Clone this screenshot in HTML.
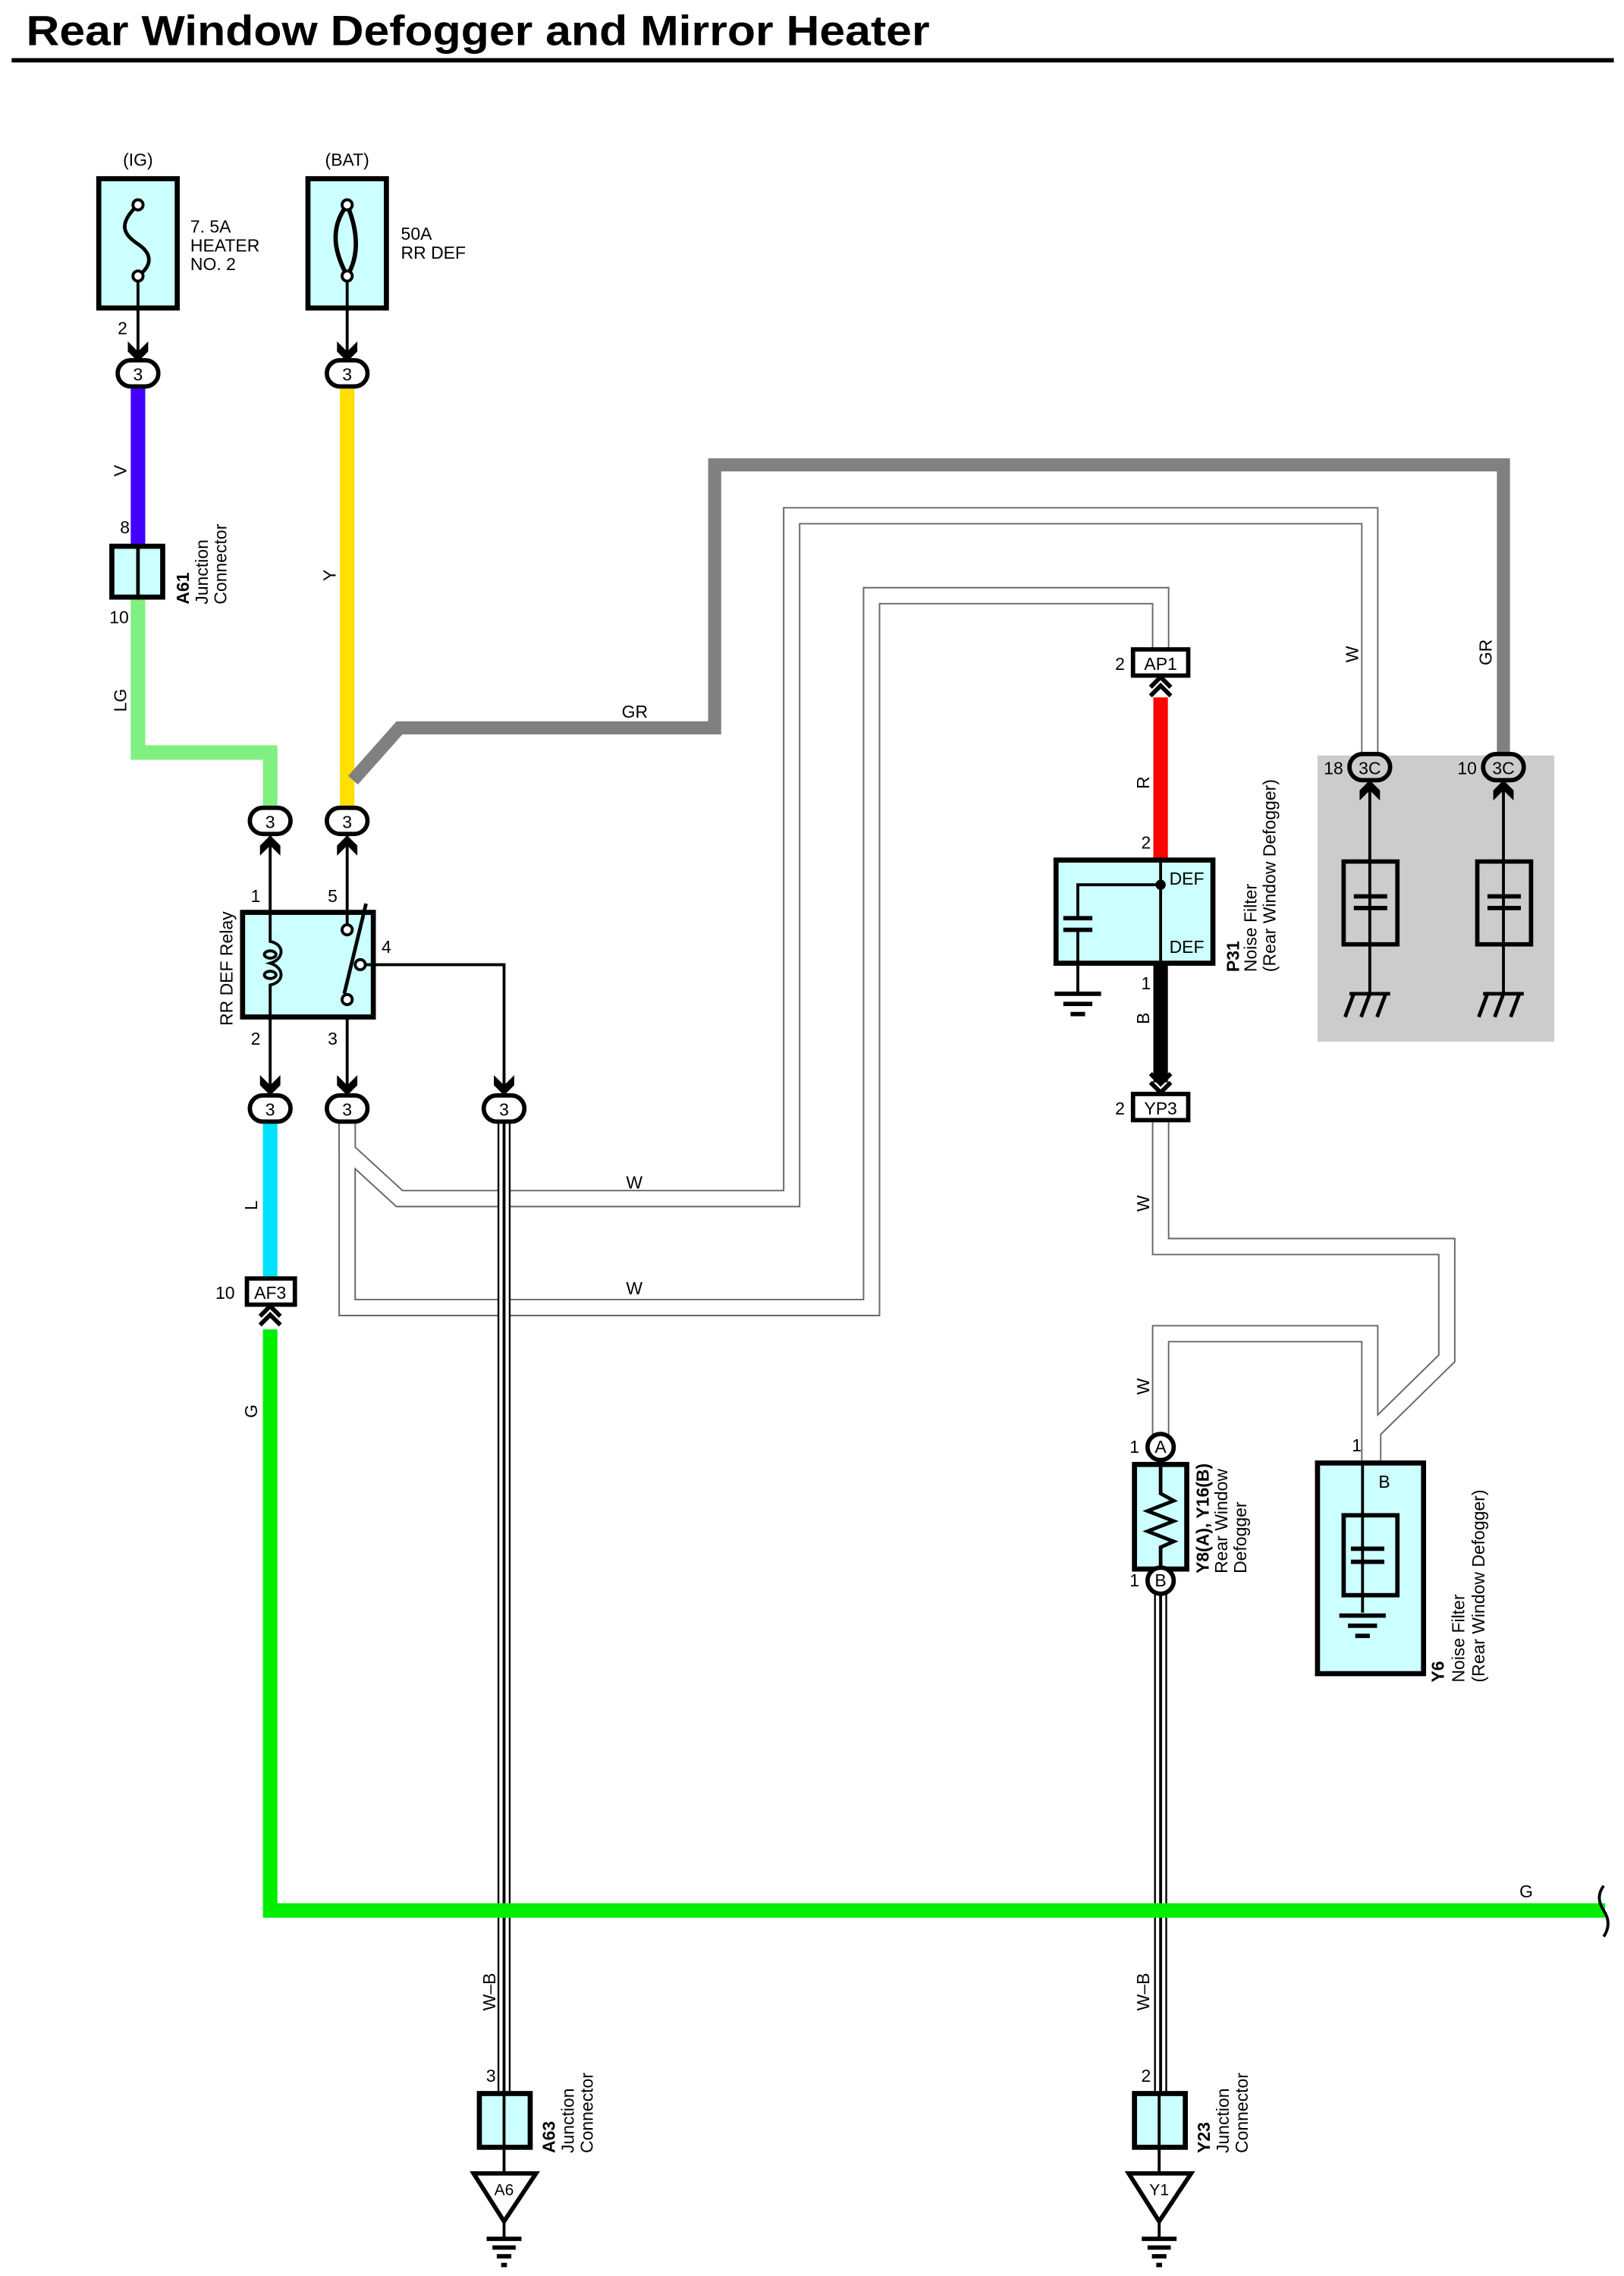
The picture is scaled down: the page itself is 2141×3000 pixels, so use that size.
<!DOCTYPE html>
<html><head><meta charset="utf-8"><style>
html,body{margin:0;padding:0;background:#fff}
svg{display:block}
text{font-family:"Liberation Sans",Arial,sans-serif;font-size:12px;fill:#000}
</style></head><body>
<svg width="2141" height="3000" viewBox="0 0 1118 1566.6" preserveAspectRatio="none" xmlns="http://www.w3.org/2000/svg">
<defs>
<g id="dn"><path d="M-7,-13 L0,-6 L7,-13 L7,-6 L0,1 L-7,-6 Z" fill="#000"/></g>
<g id="up"><path d="M-7,13 L0,6 L7,13 L7,6 L0,-1 L-7,6 Z" fill="#000"/></g>
<g id="dup"><path d="M-7,8 L0,1 L7,8" fill="none" stroke="#000" stroke-width="3"/><path d="M-7,14 L0,7 L7,14" fill="none" stroke="#000" stroke-width="3"/></g>
<g id="ddn"><path d="M-7,-8 L0,-1 L7,-8" fill="none" stroke="#000" stroke-width="3"/><path d="M-7,-14 L0,-7 L7,-14" fill="none" stroke="#000" stroke-width="3"/></g>
<g id="chassis"><path d="M-14,0 H14" stroke="#000" stroke-width="2.5"/><path d="M-11,0 L-17,16 M0,0 L-6,16 M11,0 L5,16" stroke="#000" stroke-width="2.5"/></g>
<g id="gnd"><path d="M-16,0 H16 M-10,7 H10 M-5,14 H5" stroke="#000" stroke-width="3"/></g>
</defs>
<text x="18" y="31" textLength="622" lengthAdjust="spacingAndGlyphs" style="font-size:29px;font-weight:bold">Rear Window Defogger and Mirror Heater</text>
<rect x="8" y="40" width="1103" height="3" fill="#000"/>

<rect x="907" y="520" width="163" height="197" fill="#cccccc"/>

<g fill="none" stroke-linejoin="miter">
<path d="M239,772 V792 L275,825 H545 V355 H943 V520" stroke="#666" stroke-width="12"/>
<path d="M239,772 V900 H600 V410 H799 V447" stroke="#666" stroke-width="12"/>
<path d="M799,771 V858 H996 V935 L945,985 V1007" stroke="#666" stroke-width="12"/>
<path d="M943,1007 V918 H799 V988" stroke="#666" stroke-width="12"/>
<path d="M239,772 V792 L275,825 H545 V355 H943 V520" stroke="#fff" stroke-width="10"/>
<path d="M239,772 V900 H600 V410 H799 V447" stroke="#fff" stroke-width="10"/>
<path d="M799,771 V858 H996 V935 L945,985 V1007" stroke="#fff" stroke-width="10"/>
<path d="M943,1007 V918 H799 V988" stroke="#fff" stroke-width="10"/>
<path d="M347,772 V1440 M799,1097 V1440" stroke="#000" stroke-width="9"/>
<path d="M347,772 V1440 M799,1097 V1440" stroke="#fff" stroke-width="6.5"/>
<path d="M347,772 V1440 M799,1097 V1440" stroke="#000" stroke-width="2"/>
</g>

<g fill="none">
<path d="M95,266 V376" stroke="#4400ff" stroke-width="10"/>
<path d="M95,411 V518 H186 V556" stroke="#80f080" stroke-width="10"/>
<path d="M239,266 V556" stroke="#ffe000" stroke-width="10"/>
<path d="M243,537 L275,501 H492 V320 H1035 V520" stroke="#808080" stroke-width="9"/>
<path d="M186,772 V880" stroke="#00e0ff" stroke-width="10"/>
<path d="M186,915 V1315 H1105" stroke="#00ee00" stroke-width="10"/>
<path d="M799,480 V592" stroke="#ff0000" stroke-width="10"/>
<path d="M799,663 V745" stroke="#000" stroke-width="10"/>
</g>
<path d="M1104,1298 Q1098,1306 1104,1315 Q1110,1324 1104,1333" fill="none" stroke="#000" stroke-width="2"/>

<rect x="68" y="123" width="54" height="89" fill="#ccffff" stroke="#000" stroke-width="3.5"/>
<path d="M95,141 C80,155 86,162 95,168 C104,174 106,182 95,190" fill="none" stroke="#000" stroke-width="2.5"/>
<circle cx="95" cy="141" r="3.5" fill="#fff" stroke="#000" stroke-width="2"/>
<circle cx="95" cy="190" r="3.5" fill="#fff" stroke="#000" stroke-width="2"/>
<path d="M95,194 V244" stroke="#000" stroke-width="2"/>
<use href="#dn" x="95" y="248"/>
<text x="95" y="114" text-anchor="middle">(IG)</text>
<text x="131" y="160">7. 5A</text><text x="131" y="173">HEATER</text><text x="131" y="186">NO. 2</text>
<text x="81" y="230">2</text>

<rect x="212" y="123" width="54" height="89" fill="#ccffff" stroke="#000" stroke-width="3.5"/>
<path d="M239,141 C226,158 231,175 239,190 C248,175 246,158 239,141 Z" fill="none" stroke="#000" stroke-width="3"/>
<circle cx="239" cy="141" r="3.5" fill="#fff" stroke="#000" stroke-width="2"/>
<circle cx="239" cy="190" r="3.5" fill="#fff" stroke="#000" stroke-width="2"/>
<path d="M239,194 V244" stroke="#000" stroke-width="2"/>
<use href="#dn" x="239" y="248"/>
<text x="239" y="114" text-anchor="middle">(BAT)</text>
<text x="276" y="165">50A</text><text x="276" y="178">RR DEF</text>

<g fill="#fff" stroke="#000" stroke-width="3">
<rect x="81" y="248" width="28" height="18" rx="9"/>
<rect x="225" y="248" width="28" height="18" rx="9"/>
<rect x="172" y="556" width="28" height="18" rx="9"/>
<rect x="225" y="556" width="28" height="18" rx="9"/>
<rect x="172" y="754" width="28" height="18" rx="9"/>
<rect x="225" y="754" width="28" height="18" rx="9"/>
<rect x="333" y="754" width="28" height="18" rx="9"/>
</g>
<g text-anchor="middle">
<text x="95" y="262">3</text><text x="239" y="262">3</text>
<text x="186" y="570">3</text><text x="239" y="570">3</text>
<text x="186" y="768">3</text><text x="239" y="768">3</text><text x="347" y="768">3</text>
</g>

<rect x="77" y="376" width="35" height="35" fill="#ccffff" stroke="#000" stroke-width="3.5"/>
<path d="M95,376 V411" stroke="#000" stroke-width="2.5"/>
<text x="86" y="367" text-anchor="middle">8</text>
<text x="82" y="429" text-anchor="middle">10</text>
<text transform="translate(130,416) rotate(-90)" style="font-weight:bold">A61</text>
<text transform="translate(143,416) rotate(-90)">Junction</text>
<text transform="translate(156,416) rotate(-90)">Connector</text>
<text transform="translate(87,328) rotate(-90)">V</text>
<text transform="translate(231,400) rotate(-90)">Y</text>
<text transform="translate(87,490) rotate(-90)">LG</text>
<text x="428" y="494">GR</text>
<text transform="translate(1027,458) rotate(-90)">GR</text>
<text transform="translate(935,456) rotate(-90)">W</text>

<path d="M186,574 V754 M239,574 V640 M239,688 V754" stroke="#000" stroke-width="2"/>
<use href="#up" x="186" y="576"/><use href="#up" x="239" y="576"/>
<rect x="167" y="628" width="90" height="72" fill="#ccffff" stroke="#000" stroke-width="3.5"/>
<path d="M186,628 V648 C196,650 196,660 186,663 C196,666 196,676 186,678 V700" fill="#ccffff" stroke="#000" stroke-width="2"/>
<ellipse cx="186" cy="657" rx="4" ry="2.5" fill="none" stroke="#000" stroke-width="2"/>
<ellipse cx="186" cy="671" rx="4" ry="2.5" fill="none" stroke="#000" stroke-width="2"/>
<path d="M239,640 V628" stroke="#000" stroke-width="2"/>
<path d="M237,684 L252,622" stroke="#000" stroke-width="2.5"/>
<circle cx="239" cy="640" r="3.5" fill="#fff" stroke="#000" stroke-width="2"/>
<circle cx="239" cy="688" r="3.5" fill="#fff" stroke="#000" stroke-width="2"/>
<circle cx="248" cy="664" r="3.5" fill="#fff" stroke="#000" stroke-width="2"/>
<path d="M251,664 H347 V748" fill="none" stroke="#000" stroke-width="2"/>
<use href="#dn" x="186" y="753"/><use href="#dn" x="239" y="753"/><use href="#dn" x="347" y="753"/>
<text x="176" y="621" text-anchor="middle">1</text><text x="229" y="621" text-anchor="middle">5</text>
<text x="266" y="656" text-anchor="middle">4</text>
<text x="176" y="719" text-anchor="middle">2</text><text x="229" y="719" text-anchor="middle">3</text>
<text transform="translate(160,706) rotate(-90)">RR DEF Relay</text>

<text transform="translate(177,833) rotate(-90)">L</text>
<rect x="170" y="880" width="33" height="18" fill="#fff" stroke="#000" stroke-width="3"/>
<text x="186" y="894" text-anchor="middle">AF3</text>
<text x="155" y="894" text-anchor="middle">10</text>
<use href="#dup" x="186" y="898"/>
<text transform="translate(177,976) rotate(-90)">G</text>
<text x="1046" y="1306">G</text>
<text x="431" y="818">W</text>
<text x="431" y="891">W</text>

<rect x="780" y="447" width="38" height="18" fill="#fff" stroke="#000" stroke-width="3"/>
<text x="799" y="461" text-anchor="middle">AP1</text>
<text x="771" y="461" text-anchor="middle">2</text>
<use href="#dup" x="799" y="465"/>
<text transform="translate(791,543) rotate(-90)">R</text>
<text x="789" y="584" text-anchor="middle">2</text>
<rect x="727" y="592" width="108" height="71" fill="#ccffff" stroke="#000" stroke-width="3.5"/>
<path d="M799,592 V663 M799,609 H742 V632 M742,640 V683" fill="none" stroke="#000" stroke-width="2"/>
<circle cx="799" cy="609" r="3.5" fill="#000"/>
<path d="M732,632 H752 M732,640 H752" stroke="#000" stroke-width="3"/>
<use href="#gnd" x="742" y="684"/>
<text x="805" y="609">DEF</text><text x="805" y="656">DEF</text>
<text x="789" y="681" text-anchor="middle">1</text>
<text transform="translate(791,705) rotate(-90)">B</text>
<text transform="translate(853,669) rotate(-90)" style="font-weight:bold">P31</text>
<text transform="translate(865,669) rotate(-90)">Noise Filter</text>
<text transform="translate(878,669) rotate(-90)">(Rear Window Defogger)</text>
<use href="#ddn" x="799" y="753"/>
<rect x="780" y="753" width="38" height="18" fill="#fff" stroke="#000" stroke-width="3"/>
<text x="799" y="767" text-anchor="middle">YP3</text>
<text x="771" y="767" text-anchor="middle">2</text>
<text transform="translate(791,834) rotate(-90)">W</text>

<g fill="none" stroke="#000">
<path d="M943,538 V683 M1035,538 V683" stroke-width="2"/>
<rect x="925" y="593" width="37" height="57" stroke-width="3"/>
<rect x="1017" y="593" width="37" height="57" stroke-width="3"/>
<path d="M932,617 H955 M932,625 H955 M1024,617 H1047 M1024,625 H1047" stroke-width="3"/>
</g>
<use href="#chassis" x="943" y="684"/><use href="#chassis" x="1035" y="684"/>
<use href="#up" x="943" y="538"/><use href="#up" x="1035" y="538"/>
<g fill="#ccc" stroke="#000" stroke-width="3">
<rect x="929" y="519" width="28" height="18" rx="9"/>
<rect x="1021" y="519" width="28" height="18" rx="9"/>
</g>
<text x="943" y="533" text-anchor="middle">3C</text><text x="1035" y="533" text-anchor="middle">3C</text>
<text x="918" y="533" text-anchor="middle">18</text><text x="1010" y="533" text-anchor="middle">10</text>

<rect x="781" y="1008" width="36" height="72" fill="#ccffff" stroke="#000" stroke-width="3.5"/>
<path d="M799,1005 V1028 L808,1033 L790,1040 L808,1047 L790,1054 L808,1061 L799,1065 V1085" fill="none" stroke="#000" stroke-width="2.5"/>
<circle cx="799" cy="996" r="9" fill="#fff" stroke="#000" stroke-width="3"/>
<circle cx="799" cy="1088" r="9" fill="#fff" stroke="#000" stroke-width="3"/>
<text x="799" y="1000" text-anchor="middle">A</text><text x="799" y="1092" text-anchor="middle">B</text>
<text x="781" y="1000" text-anchor="middle">1</text><text x="781" y="1092" text-anchor="middle">1</text>
<text transform="translate(791,960) rotate(-90)">W</text>
<text transform="translate(832,1083) rotate(-90)" style="font-weight:bold">Y8(A), Y16(B)</text>
<text transform="translate(845,1083) rotate(-90)">Rear Window</text>
<text transform="translate(858,1083) rotate(-90)">Defogger</text>

<rect x="907" y="1007" width="73" height="145" fill="#ccffff" stroke="#000" stroke-width="3.5"/>
<path d="M938,1007 V1110" stroke="#000" stroke-width="2"/>
<rect x="925" y="1043" width="37" height="55" fill="none" stroke="#000" stroke-width="3"/>
<path d="M930,1066 H953 M930,1075 H953" stroke="#000" stroke-width="3"/>
<use href="#gnd" x="938" y="1112"/>
<text x="953" y="1024" text-anchor="middle">B</text>
<text x="934" y="999" text-anchor="middle">1</text>
<text transform="translate(994,1158) rotate(-90)" style="font-weight:bold">Y6</text>
<text transform="translate(1008,1158) rotate(-90)">Noise Filter</text>
<text transform="translate(1022,1158) rotate(-90)">(Rear Window Defogger)</text>

<text transform="translate(341,1384) rotate(-90)">W–B</text>
<text transform="translate(791,1384) rotate(-90)">W–B</text>
<text x="338" y="1433" text-anchor="middle">3</text>
<text x="789" y="1433" text-anchor="middle">2</text>
<rect x="330" y="1441" width="35" height="37" fill="#ccffff" stroke="#000" stroke-width="3.5"/>
<rect x="781" y="1441" width="35" height="37" fill="#ccffff" stroke="#000" stroke-width="3.5"/>
<path d="M347,1441 V1495 M798,1441 V1495" stroke="#000" stroke-width="2"/>
<path d="M326,1496 H369 L347,1529 Z M777,1496 H820 L798,1529 Z" fill="#fff" stroke="#000" stroke-width="3"/>
<text x="347" y="1511" text-anchor="middle" style="font-size:11px">A6</text>
<text x="798" y="1511" text-anchor="middle" style="font-size:11px">Y1</text>
<path d="M347,1529 V1540 M798,1529 V1540" stroke="#000" stroke-width="2"/>
<path d="M335,1541 H359 M339,1547 H355 M342,1553 H352 M345,1559 H349 M786,1541 H810 M790,1547 H806 M793,1553 H803 M796,1559 H800" stroke="#000" stroke-width="3"/>
<text transform="translate(382,1482) rotate(-90)" style="font-weight:bold">A63</text>
<text transform="translate(395,1482) rotate(-90)">Junction</text>
<text transform="translate(408,1482) rotate(-90)">Connector</text>
<text transform="translate(833,1482) rotate(-90)" style="font-weight:bold">Y23</text>
<text transform="translate(846,1482) rotate(-90)">Junction</text>
<text transform="translate(859,1482) rotate(-90)">Connector</text>
</svg>
</body></html>
